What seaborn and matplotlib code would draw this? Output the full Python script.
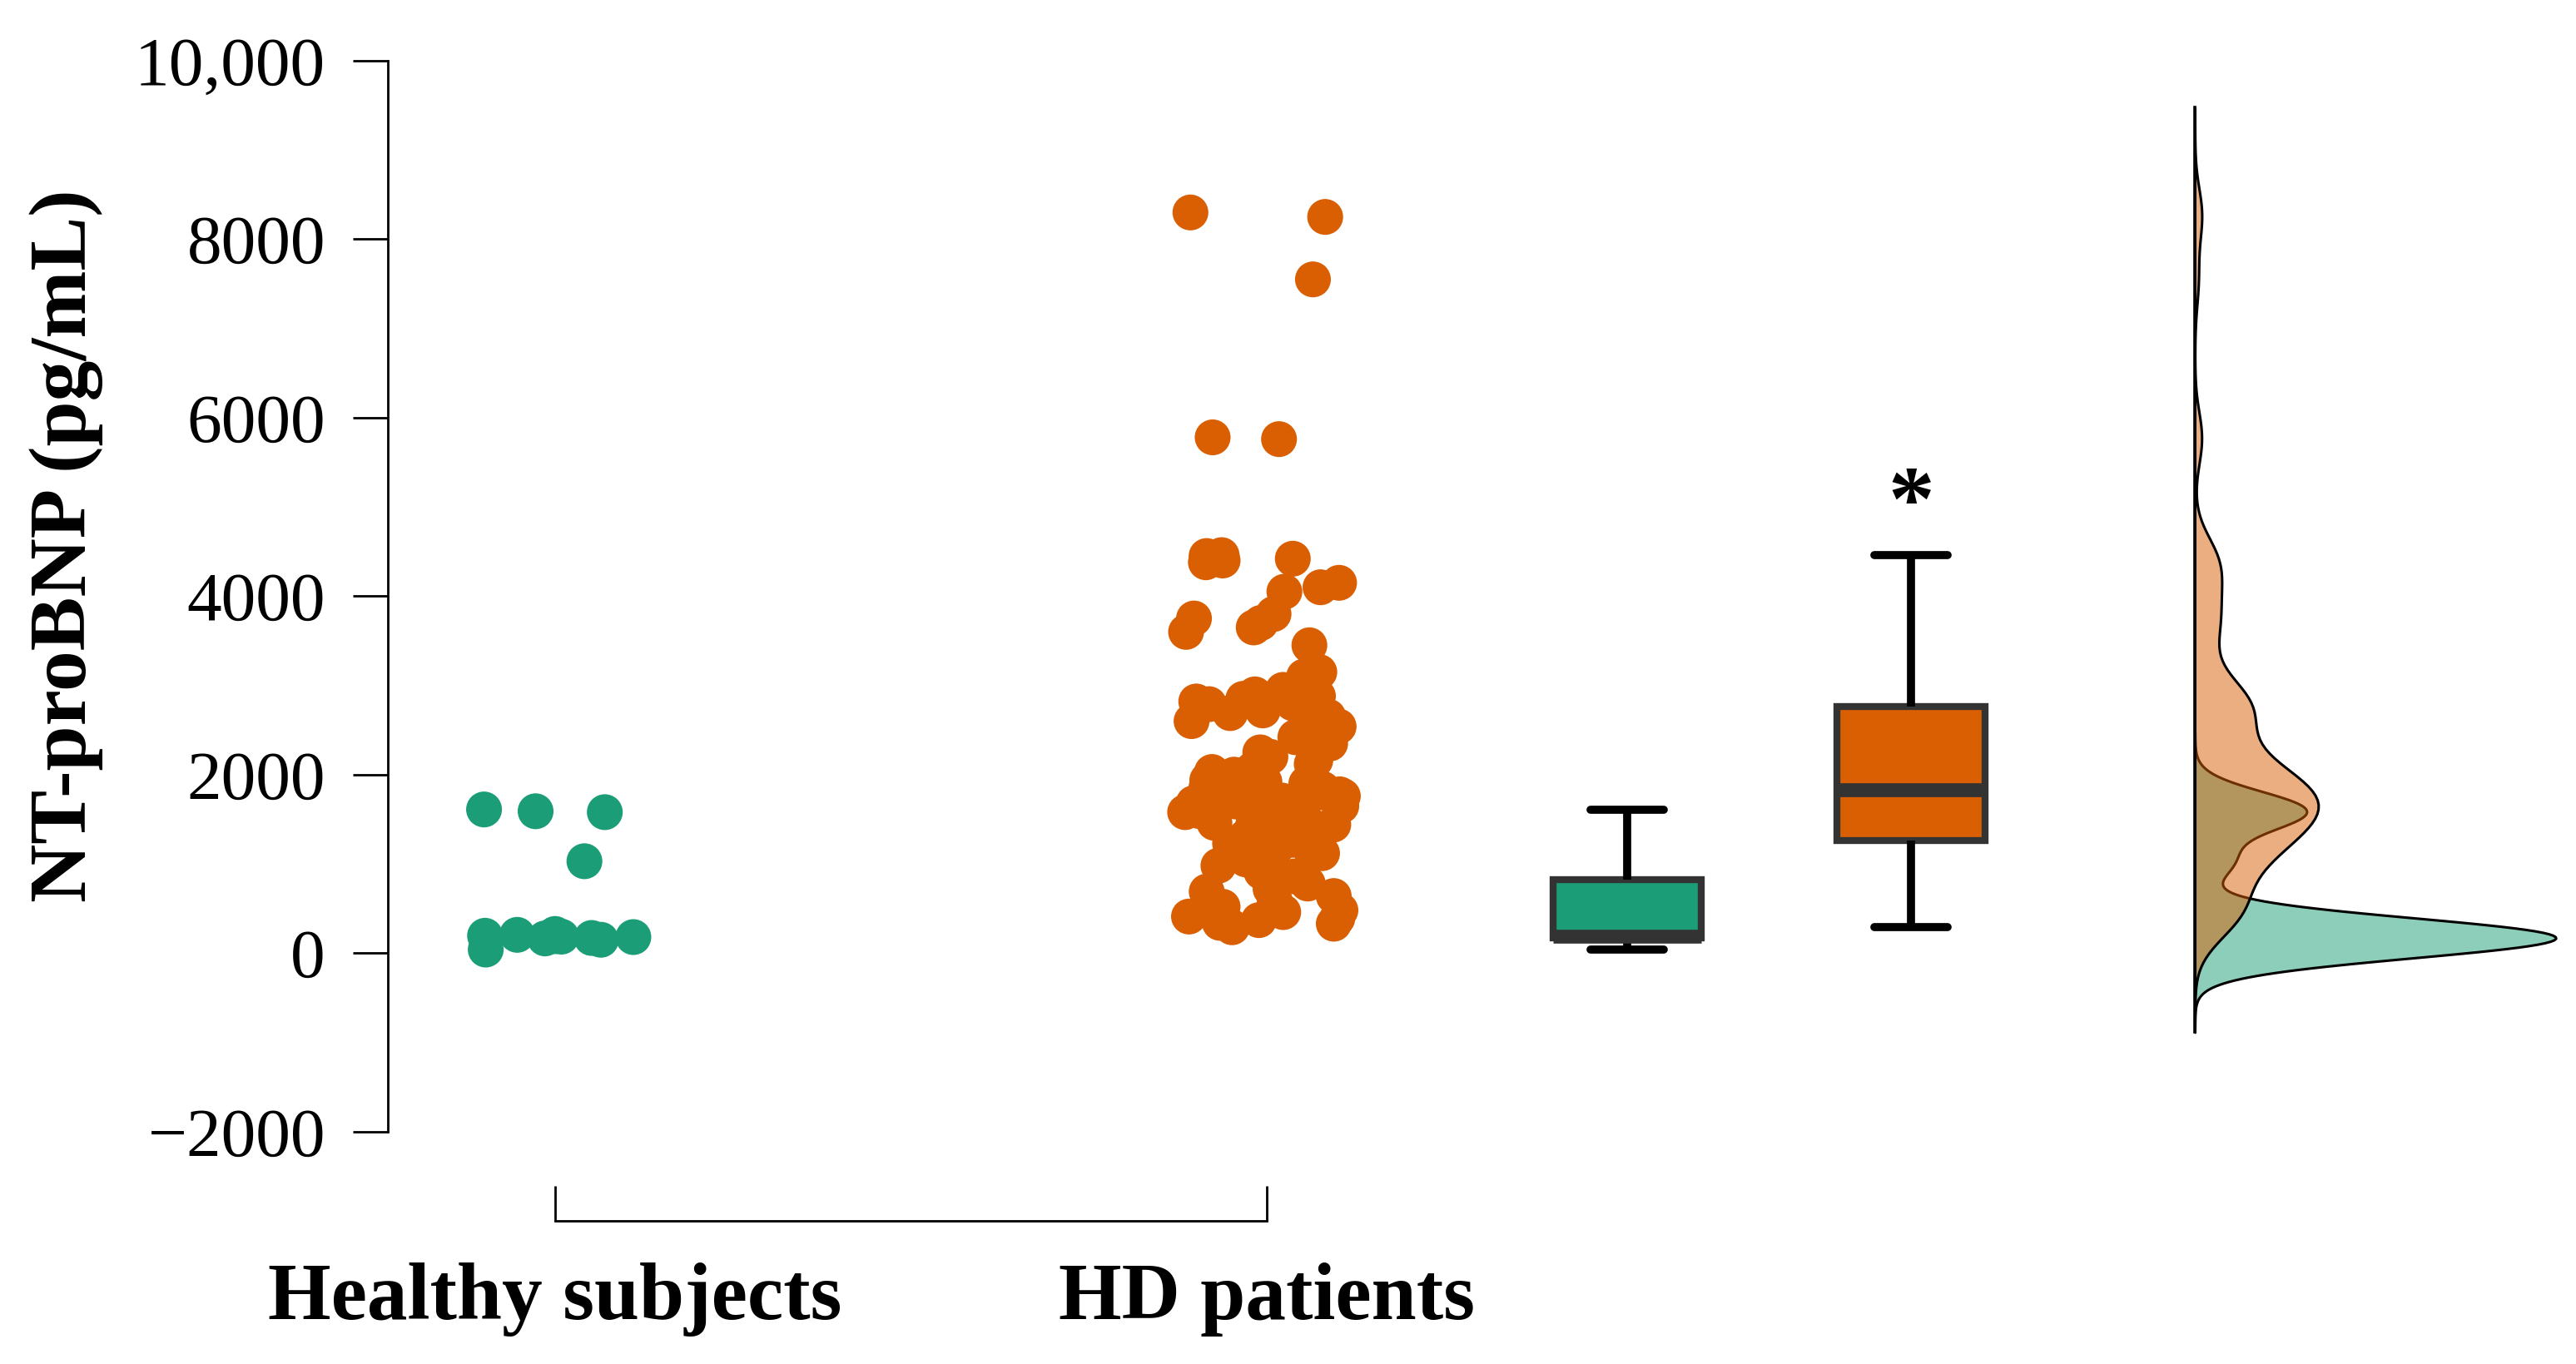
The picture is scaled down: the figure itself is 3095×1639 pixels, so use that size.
import numpy as np
import pandas as pd
import matplotlib
matplotlib.use("Agg")
import matplotlib.pyplot as plt
import seaborn as sns

# ---------------- data ----------------
groups = ["Healthy subjects", "HD patients"]
healthy_values = [40, 150, 165, 170, 180, 185, 190, 195, 205, 215,
                  1030, 1580, 1590, 1610]
hd_values = [
    290, 330, 340, 370, 390, 410, 460, 480, 520, 590, 640, 690, 720, 780,
    860, 910, 980, 1010, 1050, 1060, 1110, 1120, 1160, 1170, 1210, 1230, 1240, 1255,
    1270, 1300, 1340, 1380, 1410, 1440, 1460, 1480, 1500, 1510, 1530, 1540, 1560, 1580,
    1590, 1600, 1620, 1630, 1650, 1660, 1680, 1700, 1710, 1730, 1760, 1780, 1800, 1820,
    1840, 1850, 1870, 1880, 1900, 1920, 1940, 1960, 1980, 2000, 2030, 2060, 2090, 2120,
    2160, 2200, 2250, 2300, 2350, 2420, 2480, 2540, 2600, 2650, 2690, 2720, 2750, 2760,
    2790, 2800, 2820, 2850, 2880, 2900, 2950, 3100, 3150, 3450, 3600, 3650, 3700, 3750,
    3800, 4050, 4100, 4150, 4380, 4400, 4420, 4450, 4460, 5760, 5780, 7550, 8250, 8300,
]
ytick_values = [-2000, 0, 2000, 4000, 6000, 8000, 10000]
ytick_labels = ["\u22122000", "0", "2000", "4000", "6000", "8000", "10,000"]
y_label = "NT-proBNP (pg/mL)"
colors = ["#1B9E77", "#D95F02"]
significance_mark = "*"
significance_y = 5000

# ---------------- setup ----------------
sns.set_theme(style="white")
plt.rcParams["font.family"] = ["Liberation Serif", "DejaVu Serif"]

df = pd.DataFrame({
    "group": [groups[0]] * len(healthy_values) + [groups[1]] * len(hd_values),
    "value": healthy_values + hd_values,
})
palette = dict(zip(groups, colors))

W, H, DPI = 3095, 1639, 200
fig = plt.figure(figsize=(W / DPI, H / DPI), dpi=DPI)
fig.patch.set_facecolor("white")


def px_rect(x0, y0, x1, y1):
    return [x0 / W, 1 - y1 / H, (x1 - x0) / W, (y1 - y0) / H]


ax = fig.add_axes(px_rect(466, 73, 2548, 1467))
ax_box = fig.add_axes(px_rect(466, 73, 2548, 1467), sharey=ax)
ax_kde = fig.add_axes(px_rect(2637, 73, 3075, 1467), sharey=ax)

# ---------------- strip plot ----------------
np.random.seed(7)
sns.stripplot(data=df, x="group", y="value", hue="group", order=groups,
              hue_order=groups, palette=palette, jitter=0.115, size=15.5,
              linewidth=0, legend=False, ax=ax, zorder=3)

# ---------------- box plot ----------------
sns.boxplot(data=df, x="group", y="value", hue="group", order=groups,
            hue_order=groups, palette=palette, width=0.52, saturation=1,
            showfliers=False, linewidth=3, linecolor="#333333",
            whiskerprops=dict(color="black", linewidth=3.5),
            capprops=dict(color="black", linewidth=3.5),
            medianprops=dict(color="#333333", linewidth=6),
            legend=False, ax=ax_box)
ax_box.text(1, significance_y, significance_mark, ha="center", va="center",
            fontsize=40, fontweight="bold", color="black")

# ---------------- densities ----------------
sns.kdeplot(y=healthy_values, ax=ax_kde, fill=True, color=colors[0], alpha=0.5,
            edgecolor="black", linewidth=1.1, bw_adjust=0.6, cut=4)
sns.kdeplot(y=hd_values, ax=ax_kde, fill=True, color=colors[1], alpha=0.5,
            edgecolor="black", linewidth=1.1, bw_adjust=0.5, cut=4)

xs, ys = [], []
for coll in ax_kde.collections:
    for p in coll.get_paths():
        xs.append(p.vertices[:, 0])
        ys.append(p.vertices[:, 1])
xs = np.concatenate(xs)
ys = np.concatenate(ys)
ax_kde.set_xlim(0, xs.max() * 1.01)
for s in ["top", "right", "bottom"]:
    ax_kde.spines[s].set_visible(False)
ax_kde.spines["left"].set_bounds(ys.min(), ys.max())
ax_kde.spines["left"].set_color("black")
ax_kde.spines["left"].set_linewidth(1.3)
ax_kde.tick_params(left=False, labelleft=False, bottom=False, labelbottom=False)
ax_kde.set_xlabel("")
ax_kde.set_ylabel("")
ax_kde.patch.set_visible(False)

# ---------------- box axes styling ----------------
ax_box.set_xlim(-4.367, 1.739)
for s in ax_box.spines.values():
    s.set_visible(False)
ax_box.tick_params(left=False, labelleft=False, bottom=False, labelbottom=False)
ax_box.set_xlabel("")
ax_box.set_ylabel("")
ax_box.patch.set_visible(False)

# ---------------- main axes styling ----------------
ax.set_ylim(-3000, 10000)
ax.set_xlim(-0.235, 2.2)
ax.set_yticks(ytick_values, ytick_labels)
ax.spines["top"].set_visible(False)
ax.spines["right"].set_visible(False)
for s in ["left", "bottom"]:
    ax.spines[s].set_color("black")
    ax.spines[s].set_linewidth(1.0)
ax.spines["left"].set_bounds(-2000, 10000)
ax.spines["bottom"].set_bounds(0, 1)
ax.tick_params(axis="y", direction="out", length=15, width=1.0, labelsize=30,
               pad=12, color="black", labelcolor="black", left=True)
ax.tick_params(axis="x", direction="in", length=15, width=1.0, labelsize=35,
               pad=18, color="black", labelcolor="black", bottom=True)
for lbl in ax.get_xticklabels():
    lbl.set_fontweight("bold")
ax.set_xlabel("")
ax.set_ylabel(y_label, fontsize=35, fontweight="bold", va="center", color="black")
ax.yaxis.set_label_coords(-0.1854, 0.5818)

fig.savefig("out.png", dpi=DPI, facecolor="white")
